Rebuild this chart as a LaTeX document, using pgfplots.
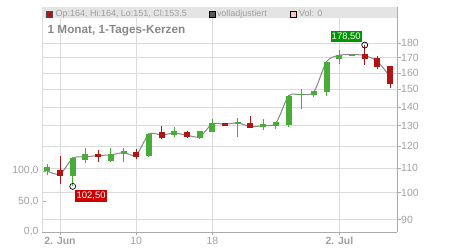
\documentclass[border=0pt]{standalone}
\usepackage{pgfplots}
\pgfplotsset{compat=1.18}
\usepackage{pgfplotstable}
\usepackage{fontspec}
\setmainfont{Liberation Sans}

\definecolor{cgreen}{RGB}{74,172,56}
\definecolor{cred}{RGB}{176,20,20}
\definecolor{gridc}{RGB}{218,218,218}
\definecolor{axc}{RGB}{170,170,170}
\definecolor{txtc}{RGB}{160,160,160}
\definecolor{titlec}{RGB}{136,136,136}
\definecolor{legbar}{RGB}{228,228,228}
\definecolor{lblgreen}{RGB}{0,150,0}
\definecolor{lblred}{RGB}{204,0,0}
\definecolor{linec}{RGB}{135,135,135}

% rising candles (close >= open)
\pgfplotstableread{
idx open high low close
0 109.0 111.8 107.2 110.5
2 106.9 115.2 102.5 114.3
3 113.8 119.3 112.5 116.4
5 113.4 119.0 112.7 116.3
6 116.5 119.0 112.7 117.5
8 115.6 126.3 114.9 125.9
10 125.3 129.2 124.6 127.4
12 123.8 127.6 123.6 127.4
13 127.1 133.4 127.1 131.3
15 131.1 134.2 124.3 131.6
17 129.3 133.6 128.0 130.6
18 129.9 132.1 128.6 131.8
19 130.6 146.6 129.6 145.8
20 146.6 150.3 138.7 147.1
21 146.6 149.3 145.8 149.1
22 148.7 167.7 146.3 166.8
23 169.2 175.1 165.7 171.7
24 171.3 172.2 171.0 171.8
}\upcandles

% falling candles (close < open)
\pgfplotstableread{
idx open high low close
1 109.3 115.5 103.4 106.9
4 116.4 118.2 112.9 114.9
7 117.2 118.7 114.0 115.2
9 126.8 130.0 123.6 124.1
11 126.9 127.4 123.8 124.3
14 131.3 131.6 130.0 130.1
16 131.1 135.3 128.8 129.1
25 172.3 178.5 165.3 169.1
26 169.6 171.0 162.5 164.0
27 164.0 164.0 151.0 153.5
}\downcandles

% adjusted close line
\pgfplotstableread{
idx line
0 108.9
1 107.6
2 114.5
3 115.1
4 115.7
5 116.0
6 117.0
7 116.0
8 125.8
9 125.4
10 126.3
11 125.3
12 124.6
13 131.0
14 130.8
15 131.5
16 129.6
17 130.1
18 131.4
19 146.2
20 146.9
21 148.7
22 167.3
23 171.5
24 172.0
25 171.3
26 167.3
27 157.6
}\adjline

\begin{document}
\begin{tikzpicture}[x=1bp,y=1bp]
\path[use as bounding box] (0,0) rectangle (450,250);

% price axis (right, log)
\begin{axis}[
  at={(42bp,18bp)}, anchor=south west,
  width=355bp, height=225bp, scale only axis,
  xmin=-0.42, xmax=27.54,
  ymode=log, ymin=85.7, ymax=207.3,
  axis y line*=right, axis x line*=bottom,
  ytick={90,100,110,120,130,140,150,160,170,180},
  yticklabels={90,100,110,120,130,140,150,160,170,180},
  xtick={1,7,13,23},
  xticklabels={\textbf{2. Jun},10,18,\textbf{2. Jul}},
  minor tick num=0,
  grid=major, major grid style={gridc, line width=0.8bp},
  axis line style={axc, line width=0.8bp},
  every tick/.style={axc, line width=0.8bp},
  major tick length=3.5bp,
  tick align=outside,
  ticklabel style={font=\fontsize{10.5}{12}\selectfont, text=txtc},
  yticklabel style={inner sep=0.5bp},
  xticklabel style={inner sep=1.5bp},
  clip=true,
]
\addplot[color=linec, line width=1bp, smooth] table[x=idx, y=line] {\adjline};
% wicks
\addplot[draw=none, mark=none,
  error bars/.cd, y dir=plus, y explicit, error mark=none,
  error bar style={draw=cgreen, line width=1bp}]
  table[x=idx, y=low, y error plus expr=\thisrow{high}-\thisrow{low}] {\upcandles};
\addplot[draw=none, mark=none,
  error bars/.cd, y dir=plus, y explicit, error mark=none,
  error bar style={draw=cred, line width=1bp}]
  table[x=idx, y=low, y error plus expr=\thisrow{high}-\thisrow{low}] {\downcandles};
% bodies
\addplot[draw=none, mark=none,
  error bars/.cd, y dir=plus, y explicit, error mark=none,
  error bar style={draw=cgreen, line width=6bp}]
  table[x=idx, y=open, y error plus expr=\thisrow{close}-\thisrow{open}+0.15] {\upcandles};
\addplot[draw=none, mark=none,
  error bars/.cd, y dir=plus, y explicit, error mark=none,
  error bar style={draw=cred, line width=6bp}]
  table[x=idx, y=close, y error plus expr=\thisrow{open}-\thisrow{close}+0.15] {\downcandles};
% extremes
\addplot[only marks, mark=o, mark size=3bp, black, line width=0.7bp] coordinates {(2,102.5) (25,178.5)};
\node[fill=lblred, text=white, anchor=north west, inner sep=0pt,
  minimum width=31.7bp, minimum height=11.7bp, font=\fontsize{9.5}{11}\selectfont,
  xshift=2.3bp, yshift=-3.5bp] at (axis cs:2,102.5) {102,50};
\node[fill=lblgreen, text=white, anchor=south east, inner sep=0pt,
  minimum width=31.3bp, minimum height=10.6bp, font=\fontsize{9.5}{11}\selectfont,
  xshift=-2.7bp, yshift=3bp] at (axis cs:25,178.5) {178,50};
\end{axis}

% volume axis (left)
\begin{axis}[
  at={(42bp,18bp)}, anchor=south west,
  width=355bp, height=225bp, scale only axis,
  xmin=-0.42, xmax=27.54,
  ymin=0, ymax=368.9,
  axis y line*=left, axis x line=none,
  ytick={0,50,100},
  axis line style={gridc, line width=0.8bp},
  every tick/.style={axc, line width=0.8bp},
  major tick length=3.5bp,
  tick align=inside,
  yticklabel style={font=\fontsize{10.5}{12}\selectfont, text=txtc,
    /pgf/number format/.cd, fixed, fixed zerofill, precision=1, use comma,
    assume math mode=true},
]
\addplot[draw=none] coordinates {(0,0)};
\end{axis}

% legend bar
\fill[legbar] (41.7,231.7) rectangle (397,242.7);
\filldraw[fill=cred, draw=black!70, line width=0.6bp] (46.7,232.8) rectangle (52.4,238.5);
\node[anchor=base west, inner sep=0pt, text=txtc, font=\fontsize{9}{10}\selectfont] at (55.5,234) {Op:164, Hi:164, Lo:151, Cl:153.5};
\filldraw[fill=black!65, draw=black, line width=0.6bp] (209.5,232.8) rectangle (215.2,238.5);
\node[anchor=base west, inner sep=0pt, text=txtc, font=\fontsize{9}{10}\selectfont] at (216.8,234) {volladjustiert};
\filldraw[fill=pink!80!red!60, draw=black, line width=0.6bp] (290.7,232.8) rectangle (296.4,238.5);
\node[anchor=base west, inner sep=0pt, text=txtc, font=\fontsize{9}{10}\selectfont] at (299,234) {Vol: 0};

% title
\node[anchor=base west, inner sep=0pt, text=titlec, font=\fontsize{11.8}{13}\selectfont\bfseries] at (47.5,216.7) {1 Monat, 1-Tages-Kerzen};
\end{tikzpicture}
\end{document}
